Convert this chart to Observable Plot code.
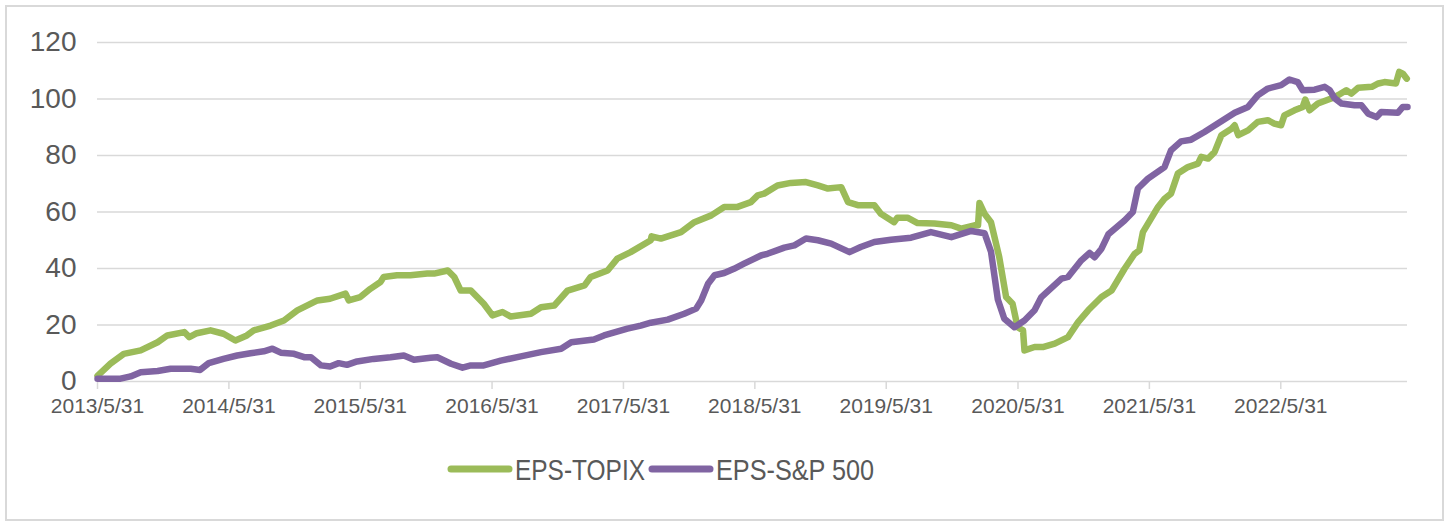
<!DOCTYPE html>
<html>
<head>
<meta charset="utf-8">
<script src="https://cdn.jsdelivr.net/npm/d3@7"></script>
<script src="https://cdn.jsdelivr.net/npm/@observablehq/plot@0.6"></script>
<style>
  html, body { margin: 0; padding: 0; background: #fff; }
  #wrap { position: relative; width: 1448px; height: 526px; overflow: hidden; font-family: "Liberation Sans", Arial, sans-serif; }
  #frame { position: absolute; left: 5px; top: 5px; width: 1439px; height: 516px; border: 2px solid #d9d9d9; box-sizing: border-box; }
  #chart { position: absolute; left: 0; top: 0; }
  #legend { position: absolute; left: 0; top: 440px; }
</style>
</head>
<body>
<div id="wrap">
  <div id="frame"></div>
  <div id="chart"></div>
  <svg id="legend" width="1448" height="60"></svg>
</div>
<script>
const seriesNames = ["EPS-TOPIX", "EPS-S&P 500"];
const seriesColors = ["#9BBB59", "#8064A2"];

const yTicks = [0, 20, 40, 60, 80, 100, 120];
const xTickDates = ["2013-05-31","2014-05-31","2015-05-31","2016-05-31","2017-05-31","2018-05-31","2019-05-31","2020-05-31","2021-05-31","2022-05-31"];
const xTickLabels = ["2013/5/31","2014/5/31","2015/5/31","2016/5/31","2017/5/31","2018/5/31","2019/5/31","2020/5/31","2021/5/31","2022/5/31"];
const xDomain = ["2013-05-31", "2023-05-18"];

const topixDates = [
  "2013-05-31","2013-07-06","2013-08-12","2013-09-28","2013-11-14","2013-12-11",
  "2014-01-27","2014-02-10","2014-03-03","2014-04-10","2014-05-16","2014-06-18","2014-07-20","2014-08-08","2014-09-24","2014-10-31","2014-12-07",
  "2015-02-01","2015-03-08","2015-04-20","2015-04-29","2015-05-31","2015-06-28","2015-07-26","2015-08-04","2015-09-10","2015-10-17","2015-12-03","2015-12-22",
  "2016-01-29","2016-02-16","2016-03-05","2016-04-02","2016-05-08","2016-06-01","2016-06-29","2016-07-22","2016-09-16","2016-10-14","2016-11-20","2016-12-27",
  "2017-02-12","2017-03-01","2017-04-17","2017-05-14","2017-06-20","2017-08-15","2017-08-17","2017-09-12","2017-11-07","2017-12-14",
  "2018-01-30","2018-03-07","2018-04-13","2018-05-20","2018-06-08","2018-06-26","2018-08-02","2018-09-08","2018-10-20","2018-11-22","2018-12-20",
  "2019-01-26","2019-02-14","2019-03-13","2019-04-28","2019-05-16","2019-06-22","2019-07-01","2019-07-29","2019-08-26","2019-10-12","2019-11-28","2019-12-25",
  "2020-01-31","2020-02-10","2020-02-14","2020-02-28","2020-03-17","2020-04-09","2020-04-28","2020-05-16","2020-05-30","2020-06-14","2020-06-18","2020-07-16","2020-08-08","2020-09-10","2020-10-17","2020-11-14","2020-12-12",
  "2021-01-18","2021-02-15","2021-03-23","2021-04-20","2021-05-03","2021-05-13","2021-06-24","2021-07-12","2021-07-30","2021-08-18","2021-09-15","2021-10-13","2021-10-22","2021-11-10","2021-11-28","2021-12-17",
  "2022-01-14","2022-01-23","2022-02-02","2022-03-01","2022-03-28","2022-04-25","2022-05-13","2022-06-01","2022-06-10","2022-07-08","2022-07-31","2022-08-07","2022-08-19","2022-09-11","2022-10-18","2022-11-06","2022-11-29","2022-12-13",
  "2023-01-01","2023-02-08","2023-02-26","2023-03-15","2023-04-16","2023-04-25","2023-05-05","2023-05-16"
];
const topixValues = [
  2, 6.3, 9.8, 11, 13.9, 16.3,
  17.5, 15.7, 17.1, 18.1, 16.9, 14.5, 16.3, 18.1, 19.8, 21.6, 25.2,
  28.7, 29.3, 31.1, 28.7, 29.9, 32.8, 35.2, 37, 37.6, 37.6, 38.2, 38.2,
  39.3, 37, 32.2, 32.2, 27.5, 23.4, 24.6, 23, 24, 26.3, 26.9, 32.2,
  34, 37, 39.3, 43.5, 45.8, 50, 51.4, 50.6, 52.9, 56.4,
  58.8, 61.8, 61.8, 63.5, 65.9, 66.5, 69.4, 70.3, 70.6, 69.4, 68.3,
  68.8, 63.5, 62.4, 62.4, 59.4, 56.4, 58, 58, 56.1, 55.9, 55.3, 54.1,
  55.3, 55.3, 63.2, 59.4, 56.4, 44, 29.9, 27.5, 19.2, 18.1, 11, 12.2, 12.2, 13.4, 15.7, 21, 25.2,
  29.9, 32.2, 39.9, 45.2, 46.4, 52.9, 61.8, 64.7, 66.5, 73.6, 75.9, 77.1, 79.5, 78.9, 81.2, 87.2,
  89.5, 90.7, 87.2, 88.9, 91.9, 92.5, 91.3, 90.7, 94.2, 96, 97.2, 99.8, 96, 98.4, 100.2, 101.3, 103.1, 101.9,
  104, 104.3, 105.5, 106, 105.5, 109.6, 109, 107.2
];

const spDates = [
  "2013-05-31","2013-08-03","2013-08-31","2013-09-28","2013-11-14","2013-12-20",
  "2014-02-14","2014-03-12","2014-04-05","2014-05-16","2014-06-23","2014-07-30","2014-09-05","2014-09-29","2014-10-22","2014-11-28","2014-12-26",
  "2015-01-14","2015-02-11","2015-03-08","2015-04-01","2015-04-24","2015-05-22","2015-07-07","2015-08-23","2015-09-29","2015-10-27","2015-12-12","2015-12-31",
  "2016-02-07","2016-03-10","2016-04-02","2016-05-08","2016-06-24","2016-08-19","2016-10-14","2016-12-09",
  "2017-01-06","2017-03-10","2017-04-07","2017-06-11","2017-07-18","2017-08-15","2017-10-01","2017-11-16","2017-12-19",
  "2018-01-02","2018-01-21","2018-02-08","2018-03-07","2018-04-03","2018-05-01","2018-05-20","2018-06-17","2018-07-05","2018-08-21","2018-09-18","2018-10-20","2018-11-22","2018-12-29",
  "2019-02-18","2019-03-21","2019-04-28","2019-06-13","2019-08-08","2019-10-02","2019-11-28",
  "2020-01-22","2020-02-28","2020-03-17","2020-04-05","2020-04-23","2020-05-21","2020-06-18","2020-07-16","2020-08-04","2020-09-29","2020-10-17","2020-11-23","2020-12-16","2020-12-30",
  "2021-01-18","2021-02-06","2021-03-23","2021-04-15","2021-04-29","2021-05-27","2021-07-12","2021-07-30","2021-08-27","2021-09-24","2021-10-31","2021-12-07",
  "2022-01-23","2022-03-01","2022-03-28","2022-04-25","2022-06-01","2022-06-24","2022-07-17","2022-07-31","2022-09-02","2022-09-30","2022-10-14","2022-10-28","2022-11-16","2022-12-22",
  "2023-01-10","2023-01-29","2023-02-21","2023-03-06","2023-04-21","2023-05-05","2023-05-18"
];
const spValues = [
  1, 1, 1.8, 3.3, 3.7, 4.5,
  4.5, 4.1, 6.5, 8, 9.2, 10, 10.7, 11.6, 10.2, 9.8, 8.6,
  8.6, 5.7, 5.3, 6.5, 5.9, 7.1, 8, 8.6, 9.2, 7.7, 8.4, 8.6,
  6.3, 4.9, 5.7, 5.7, 7.4, 8.9, 10.4, 11.6,
  13.9, 14.9, 16.3, 18.7, 19.8, 20.8, 21.9, 24, 25.8,
  28.7, 34.6, 37.6, 38.4, 39.9, 41.7, 42.9, 44.6, 45.2, 47.4, 48.2, 50.6, 50, 48.8,
  45.8, 47.6, 49.4, 50.2, 50.9, 52.9, 51.1,
  53.3, 52.5, 46, 29, 22.2, 19.2, 21.6, 25.2, 29.9, 36.4, 37, 42.9, 45.5, 44,
  47, 52.1, 57, 60, 68.3, 71.8, 75.9, 81.8, 85, 85.6, 88.3, 91.3,
  95.1, 97.2, 101.3, 103.7, 104.9, 106.9, 106, 103.1, 103.3, 104.3, 103.1, 100.2, 98.4, 97.8,
  97.8, 94.8, 93.6, 95.4, 95.1, 97.2, 97.2
];

const parse = s => new Date(s + "T00:00:00Z");
const topix = topixDates.map((d, i) => ({date: parse(d), value: topixValues[i]}));
const sp = spDates.map((d, i) => ({date: parse(d), value: spValues[i]}));
const xTicks = xTickDates.map(parse);
const labelFor = d => xTickLabels[xTicks.findIndex(t => +t === +d)];

const chart = Plot.plot({
  width: 1448,
  height: 426,
  marginLeft: 97,
  marginRight: 41,
  marginTop: 42,
  marginBottom: 45,
  style: {fontFamily: "Liberation Sans, Arial, sans-serif", background: "transparent"},
  x: {type: "utc", domain: xDomain.map(parse)},
  y: {domain: [0, 120]},
  marks: [
    Plot.gridY(yTicks, {stroke: "#d9d9d9", strokeOpacity: 1, strokeWidth: 1.5}),
    Plot.axisY(yTicks, {tickSize: 0, tickPadding: 21, fontSize: 28, fill: "#595959", tickFormat: d => String(d), label: null}),
    Plot.axisX(xTicks, {tickSize: 8, tickPadding: 9, stroke: "#d9d9d9", strokeWidth: 1.5, fontSize: 21, fill: "#595959", tickFormat: labelFor, label: null}),
    Plot.lineY(topix, {x: "date", y: "value", stroke: seriesColors[0], strokeWidth: 6.5}),
    Plot.lineY(sp, {x: "date", y: "value", stroke: seriesColors[1], strokeWidth: 6.5})
  ]
});
document.getElementById("chart").appendChild(chart);

// legend
const lg = d3.select("#legend");
const legendItems = [
  {name: seriesNames[0], color: seriesColors[0], x0: 451, x1: 509, tx: 515, tw: 130},
  {name: seriesNames[1], color: seriesColors[1], x0: 652, x1: 710, tx: 716, tw: 158}
];
legendItems.forEach(it => {
  lg.append("line")
    .attr("x1", it.x0).attr("x2", it.x1)
    .attr("y1", 29).attr("y2", 29)
    .attr("stroke", it.color).attr("stroke-width", 7).attr("stroke-linecap", "round");
  lg.append("text")
    .attr("x", it.tx).attr("y", 39.5)
    .attr("font-family", "Liberation Sans, Arial, sans-serif")
    .attr("font-size", 29)
    .attr("fill", "#595959")
    .attr("textLength", it.tw)
    .attr("lengthAdjust", "spacingAndGlyphs")
    .text(it.name);
});
</script>
</body>
</html>
